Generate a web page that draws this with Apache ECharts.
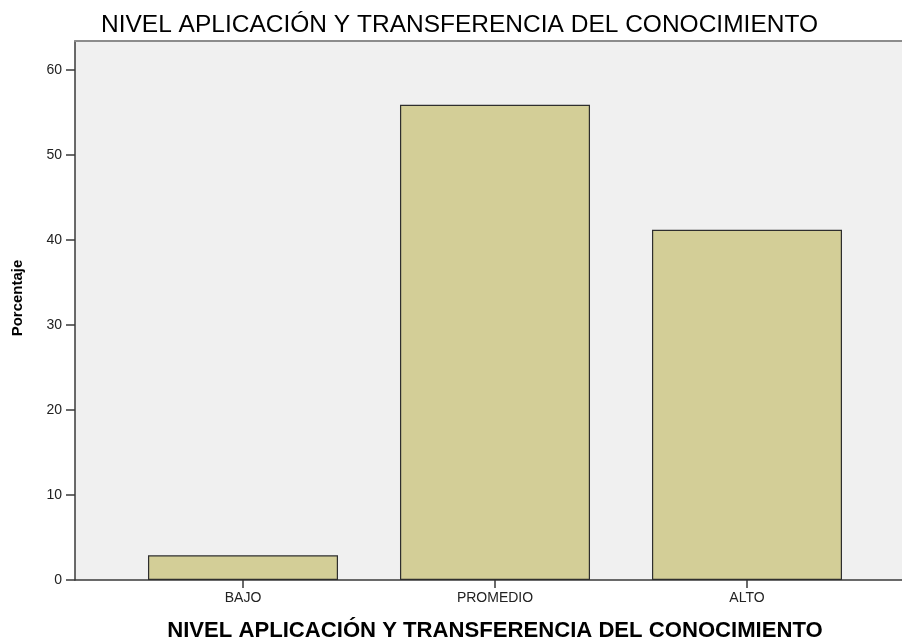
<!DOCTYPE html>
<html>
<head>
  <meta charset="utf-8">
  <title>Nivel aplicación y transferencia del conocimiento</title>
  <script src="https://cdn.jsdelivr.net/npm/echarts/dist/echarts.min.js"></script>
  <style>
    html, body { margin: 0; padding: 0; background: #fff; }
    #chart { width: 902px; height: 638px; }
  </style>
</head>
<body>
  <div id="chart"></div>
  <script>
    // datos
    const categories = ['BAJO', 'PROMEDIO', 'ALTO'];
    const percentages = [2.9, 55.9, 41.2];
    const yTicks = [0, 10, 20, 30, 40, 50, 60];
    const yMax = 63.4;

    const titleText = 'NIVEL APLICACIÓN Y TRANSFERENCIA DEL CONOCIMIENTO';
    const font = '"Liberation Sans", Arial, sans-serif';

    // ajustar ancho del título al original
    const ctx = document.createElement('canvas').getContext('2d');
    ctx.font = '23px ' + font;
    const titleScale = 717 / ctx.measureText(titleText).width;
    ctx.font = 'bold 10px ' + font;
    const xNameSize = 10 * 656 / ctx.measureText(titleText).width;

    const chart = echarts.init(document.getElementById('chart'));
    chart.setOption({
      animation: false,
      textStyle: { fontFamily: font },
      graphic: [
        {
          type: 'text', left: 101, top: 14, scaleX: titleScale,
          style: { text: titleText, font: '23px ' + font, fill: '#000' }
        },
        {
          type: 'text', x: 18, y: 298, rotation: Math.PI / 2,
          style: {
            text: 'Porcentaje', font: 'bold 15px ' + font, fill: '#000',
            align: 'center', verticalAlign: 'middle'
          }
        }
      ],
      grid: [
        // área de fondo
        { left: 75, right: 0, top: 41, bottom: 58, show: true, backgroundColor: '#f0f0f0', borderWidth: 0, outerBoundsMode: 'none' },
        // área de barras
        { left: 117, right: 29, top: 41, bottom: 58, outerBoundsMode: 'none' }
      ],
      xAxis: [
        {
          gridIndex: 0, type: 'value', min: 0, max: 1,
          axisLine: { lineStyle: { color: '#3a3a3a', width: 1.5 } },
          axisTick: { show: false }, axisLabel: { show: false }, splitLine: { show: false }
        },
        {
          gridIndex: 0, type: 'value', min: 0, max: 1, position: 'top',
          axisLine: { lineStyle: { color: '#8c8c8c', width: 2 } },
          axisTick: { show: false }, axisLabel: { show: false }, splitLine: { show: false }
        },
        {
          gridIndex: 1, type: 'category', data: categories,
          axisLine: { show: false },
          axisTick: { show: true, alignWithLabel: true, length: 8, lineStyle: { color: '#3a3a3a', width: 1.5 } },
          axisLabel: { color: '#222', fontSize: 14, margin: 11 },
          name: titleText, nameLocation: 'middle', nameGap: 51, nameMoveOverlap: false,
          nameTextStyle: { color: '#000', fontWeight: 'bold', fontSize: xNameSize, verticalAlign: 'middle' }
        }
      ],
      yAxis: [
        {
          gridIndex: 0, type: 'value', min: 0, max: yMax,
          axisLine: { show: true, lineStyle: { color: '#3a3a3a', width: 1.5 } },
          axisTick: { show: true, length: 9, customValues: yTicks, lineStyle: { color: '#3a3a3a', width: 1.5 } },
          axisLabel: { color: '#222', fontSize: 14, margin: 13, customValues: yTicks },
          splitLine: { show: false }
        },
        {
          gridIndex: 1, type: 'value', min: 0, max: yMax, show: false
        }
      ],
      series: [
        {
          type: 'bar', xAxisIndex: 2, yAxisIndex: 1,
          data: percentages, barCategoryGap: '24.6%',
          itemStyle: { color: '#d3ce97', borderColor: '#2e2e2e', borderWidth: 1.2 }
        }
      ]
    });
  </script>
</body>
</html>
